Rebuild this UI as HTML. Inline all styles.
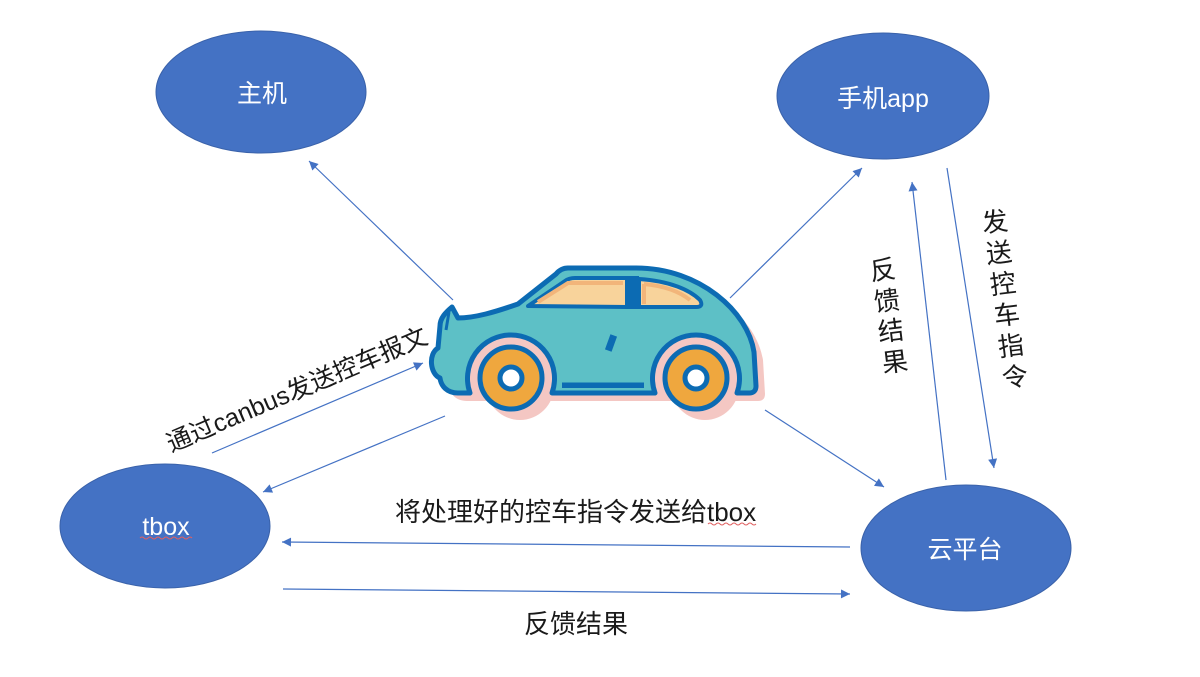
<!DOCTYPE html>
<html><head><meta charset="utf-8">
<style>
html,body{margin:0;padding:0;background:#fff;}
svg{display:block;}
text{font-family:"Liberation Sans","Noto Sans CJK SC",sans-serif;}
</style></head>
<body>
<svg width="1200" height="677" viewBox="0 0 1200 677" xmlns="http://www.w3.org/2000/svg">
<defs>
<marker id="a" viewBox="0 0 10 10" refX="10" refY="5" markerWidth="10" markerHeight="9" markerUnits="userSpaceOnUse" orient="auto">
<path d="M0,0 L10,5 L0,10 z" fill="#4472C4"/>
</marker>
</defs>
<rect width="1200" height="677" fill="#fff"/>

<!-- ellipses -->
<ellipse cx="261" cy="92" rx="105" ry="61" fill="#4472C4" stroke="#3A62AA" stroke-width="1"/>
<ellipse cx="883" cy="96" rx="106" ry="63" fill="#4472C4" stroke="#3A62AA" stroke-width="1"/>
<ellipse cx="165" cy="526" rx="105" ry="62" fill="#4472C4" stroke="#3A62AA" stroke-width="1"/>
<ellipse cx="966" cy="548" rx="105" ry="63" fill="#4472C4" stroke="#3A62AA" stroke-width="1"/>

<g fill="#fff" font-size="25" text-anchor="middle" dominant-baseline="central">
<text x="262" y="94">主机</text>
<text x="883" y="99">手机app</text>
<text x="166" y="527">tbox</text>
<text x="965" y="550">云平台</text>
</g>
<path d="M140 538 q2 -2 4 0 t4 0 t4 0 t4 0 t4 0 t4 0 t4 0 t4 0 t4 0 t4 0 t4 0 t4 0 t4 0" stroke="#E06060" stroke-width="1" fill="none"/>

<!-- connectors -->
<g stroke="#4472C4" stroke-width="1.2" fill="none" marker-end="url(#a)">
<line x1="453" y1="300" x2="309" y2="161"/>
<line x1="730" y1="298" x2="862" y2="168"/>
<line x1="212" y1="453" x2="423" y2="363"/>
<line x1="445" y1="416" x2="263" y2="492"/>
<line x1="765" y1="410" x2="884" y2="487"/>
<line x1="946" y1="480" x2="912" y2="182"/>
<line x1="947" y1="168" x2="994" y2="468"/>
<line x1="850" y1="547" x2="282" y2="542"/>
<line x1="283" y1="589" x2="850" y2="594"/>
</g>

<!-- car -->
<g transform="translate(9,8)" fill="#F4C7C3">
<path d="M 568 268 L 636 268 C 700 268, 748 312, 754 352 L 756 386 Q 756 393 749 393 L 458 393 C 447 393, 441 386, 440 378 C 430 374, 428 354, 438 348 L 440 326 C 440 318, 446 312, 452 307 L 458 318 C 475 318, 495 312, 518 304 L 556 274 Q 561 268 568 268 Z"/>
<circle cx="511" cy="378" r="34"/>
<circle cx="696" cy="378" r="34"/>
</g>
<path d="M 568 268 L 636 268 C 700 268, 748 312, 754 352 L 756 386 Q 756 393 749 393 L 737 393 A 43.5 43.5 0 1 0 655 393 L 552 393 A 43.5 43.5 0 1 0 470 393 L 458 393 C 447 393, 441 386, 440 378 C 430 374, 428 354, 438 348 L 440 326 C 440 318, 446 312, 452 307 L 458 318 C 475 318, 495 312, 518 304 L 556 274 Q 561 268 568 268 Z" fill="#5DC0C6" stroke="#0C6BB3" stroke-width="5" stroke-linejoin="round"/>
<path d="M 449 312 L 446 330" stroke="#0C6BB3" stroke-width="3" fill="none"/>
<!-- windows -->
<path d="M 528 306 L 565 281 Q 569 278 575 278 L 627 278 L 627 307 Z" fill="#F8D39B" stroke="#0C6BB3" stroke-width="4" stroke-linejoin="round"/>
<path d="M 538 302 L 568 283 L 623 283" stroke="#F2B57A" stroke-width="4" fill="none"/>
<path d="M 639 279 C 670 281, 690 290, 700 300 Q 704 307 696 307 L 639 307 Z" fill="#F8D39B" stroke="#0C6BB3" stroke-width="4" stroke-linejoin="round"/>
<path d="M 644 284 L 644 304 M 644 284 C 665 286, 680 292, 690 300" stroke="#F2B57A" stroke-width="4" fill="none"/>
<rect x="626" y="276" width="13" height="33" fill="#0C6BB3"/>
<!-- handle & skirt -->
<rect x="607.5" y="335" width="7" height="16" fill="#0C6BB3" transform="rotate(20 611 343)"/>
<rect x="562" y="382.5" width="82" height="5.5" fill="#0C6BB3"/>
<!-- wheels -->
<circle cx="511" cy="378" r="31" fill="#EFA73E" stroke="#0C6BB3" stroke-width="5"/>
<circle cx="511" cy="378" r="11" fill="#fff" stroke="#0C6BB3" stroke-width="5"/>
<circle cx="696" cy="378" r="31" fill="#EFA73E" stroke="#0C6BB3" stroke-width="5"/>
<circle cx="696" cy="378" r="11" fill="#fff" stroke="#0C6BB3" stroke-width="5"/>

<!-- labels -->
<g fill="#1a1a1a" font-size="26">
<text x="168" y="445" font-size="25" dominant-baseline="central" transform="rotate(-23 168 445)">通过canbus发送控车报文</text>
<text x="395" y="512" dominant-baseline="central">将处理好的控车指令发送给tbox</text>
<text x="576" y="624" dominant-baseline="central" text-anchor="middle">反馈结果</text>
</g>
<path d="M708 524 q2 -2 4 0 t4 0 t4 0 t4 0 t4 0 t4 0 t4 0 t4 0 t4 0 t4 0 t4 0 t4 0" stroke="#E06060" stroke-width="1" fill="none"/>
<g fill="#1a1a1a" font-size="26" text-anchor="middle" dominant-baseline="central">
<text x="883" y="270" transform="rotate(-7 883 270)">反</text>
<text x="887" y="301" transform="rotate(-7 887 301)">馈</text>
<text x="891" y="331" transform="rotate(-7 891 331)">结</text>
<text x="895" y="362" transform="rotate(-7 895 362)">果</text>
<text x="995" y="222" transform="rotate(-7 995 222)">发</text>
<text x="999" y="253" transform="rotate(-7 999 253)">送</text>
<text x="1003" y="284" transform="rotate(-7 1003 284)">控</text>
<text x="1007" y="315" transform="rotate(-7 1007 315)">车</text>
<text x="1011" y="346" transform="rotate(-7 1011 346)">指</text>
<text x="1015" y="377" transform="rotate(-7 1015 377)">令</text>
</g>
</svg>
</body></html>
